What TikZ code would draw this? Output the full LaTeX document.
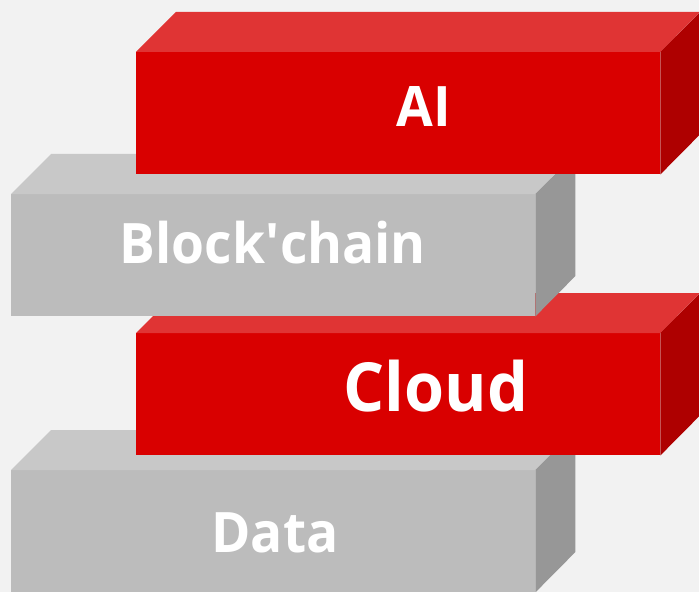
\documentclass[tikz,border=0pt]{standalone}
\usepackage{fontspec}
\setmainfont{Open Sans}[FakeStretch=0.955]
\usepackage{tikz}
\usetikzlibrary{positioning, calc}
\definecolor{bg}{HTML}{F2F2F2}
\definecolor{redfront}{HTML}{D90000}
\definecolor{redtop}{HTML}{E03434}
\definecolor{redside}{HTML}{AE0000}
\definecolor{grayfront}{HTML}{BCBCBC}
\definecolor{graytop}{HTML}{C8C8C8}
\definecolor{grayside}{HTML}{979797}

\begin{document}
\begin{tikzpicture}[x=1bp, y=-1bp,
    blockface/.style={anchor=north west, inner sep=0pt, minimum width=524bp, minimum height=122bp},
    blocktext/.style={anchor=base, text=white, inner sep=0pt}]
    \fill[bg] (0,0) rectangle (699,592);
    \useasboundingbox (0,0) rectangle (699,592);

    % blocks, from the bottom one up
    \foreach \x/\y/\c/\n in {
        11/470/gray/data,
        136/333/red/cloud,
        11/194/gray/chain,
        136/52/red/ai}
    {
        \node[blockface, fill=\c front] (\n) at (\x,\y) {};
        \fill[\c top] (\n.north west) -- ++(40,-40) -- ++(524,0) -- (\n.north east) -- cycle;
        \fill[\c side] (\n.north east) -- ++(40,-40) -- ++(0,122) -- (\n.south east) -- cycle;
    }

    % labels
    \foreach \x/\y/\sz/\n/\txt in {
        275/552/56/data/Data,
        436/411/68/cloud/Cloud,
        273/263/56/chain/Block\textquotesingle chain,
        424/127/56/ai/AI}
        \node[blocktext, font=\bfseries\fontsize{\sz}{\sz}\selectfont] (\n-text) at (\x,\y) {\txt};

\end{tikzpicture}
\end{document}
